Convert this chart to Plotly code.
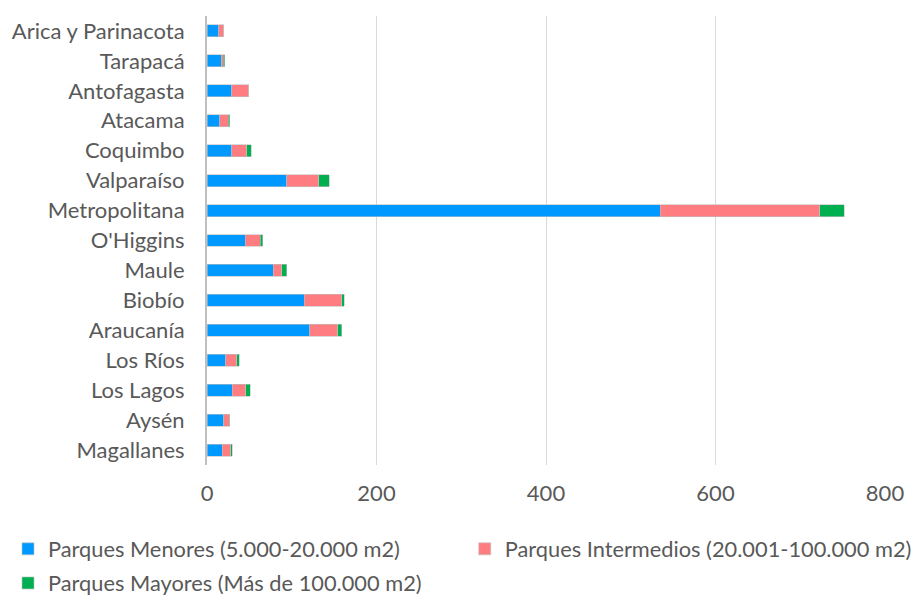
import plotly.graph_objects as go

regiones = ["Arica y Parinacota", "Tarapacá", "Antofagasta", "Atacama", "Coquimbo",
            "Valparaíso", "Metropolitana", "O'Higgins", "Maule", "Biobío",
            "Araucanía", "Los Ríos", "Los Lagos", "Aysén", "Magallanes"]
menores = [14, 17, 29, 15, 29, 94, 535, 45, 78, 115, 121, 22, 30, 20, 18]
intermedios = [6, 2, 20, 10, 18, 38, 188, 18, 10, 44, 33, 13, 16, 6, 10]
mayores = [0, 2, 0, 2, 5, 12, 29, 3, 6, 3, 5, 3, 5, 1, 2]
x_ticks = [0, 200, 400, 600, 800]

nombres = ["Parques Menores (5.000-20.000 m2)",
           "Parques Intermedios (20.001-100.000 m2)",
           "Parques Mayores (Más de 100.000 m2)"]
colores = ["#0099FF", "#FF7C80", "#00B050"]
leyendas = ["legend", "legend2", "legend3"]

FONT = "Lato"
GRAY = "#595959"
FS = 22
LFS = 21.8

fig = go.Figure()
for nombre, vals, col, lg in zip(nombres, [menores, intermedios, mayores], colores, leyendas):
    fig.add_trace(go.Bar(
        y=regiones, x=vals, name=nombre, orientation="h", legend=lg,
        marker=dict(color=col, line=dict(color="#BFBFBF", width=0.6)),
    ))

def leg(x, y):
    return dict(
        orientation="h", xref="container", yref="container",
        x=x, y=y, xanchor="left", yanchor="middle",
        font=dict(family=FONT, size=LFS, color=GRAY),
        itemclick=False, itemdoubleclick=False,
        bgcolor="rgba(0,0,0,0)",
    )

fig.update_layout(
    barmode="stack",
    bargap=0.6,
    width=919, height=598,
    margin=dict(l=199, r=42, t=8, b=141, autoexpand=False),
    plot_bgcolor="white", paper_bgcolor="white",
    font=dict(family=FONT, size=FS, color=GRAY),
    showlegend=True,
    legend=leg(-0.007, 0.095),
    legend2=leg(0.497, 0.095),
    legend3=leg(-0.007, 0.038),
    xaxis=dict(
        range=[0, 800], tickvals=x_ticks, automargin=False,
        showgrid=True, gridcolor="#D9D9D9", gridwidth=1.3,
        zeroline=False, showline=False, ticks="",
        ticklabelstandoff=13,
        tickfont=dict(family=FONT, size=FS, color=GRAY),
    ),
    yaxis=dict(
        autorange="reversed", automargin=False,
        showgrid=False, zeroline=False,
        showline=True, linecolor="#BFBFBF", linewidth=2,
        ticks="", ticklabelstandoff=16,
        tickfont=dict(family=FONT, size=FS, color=GRAY),
    ),
)

fig.write_html("out.html")
